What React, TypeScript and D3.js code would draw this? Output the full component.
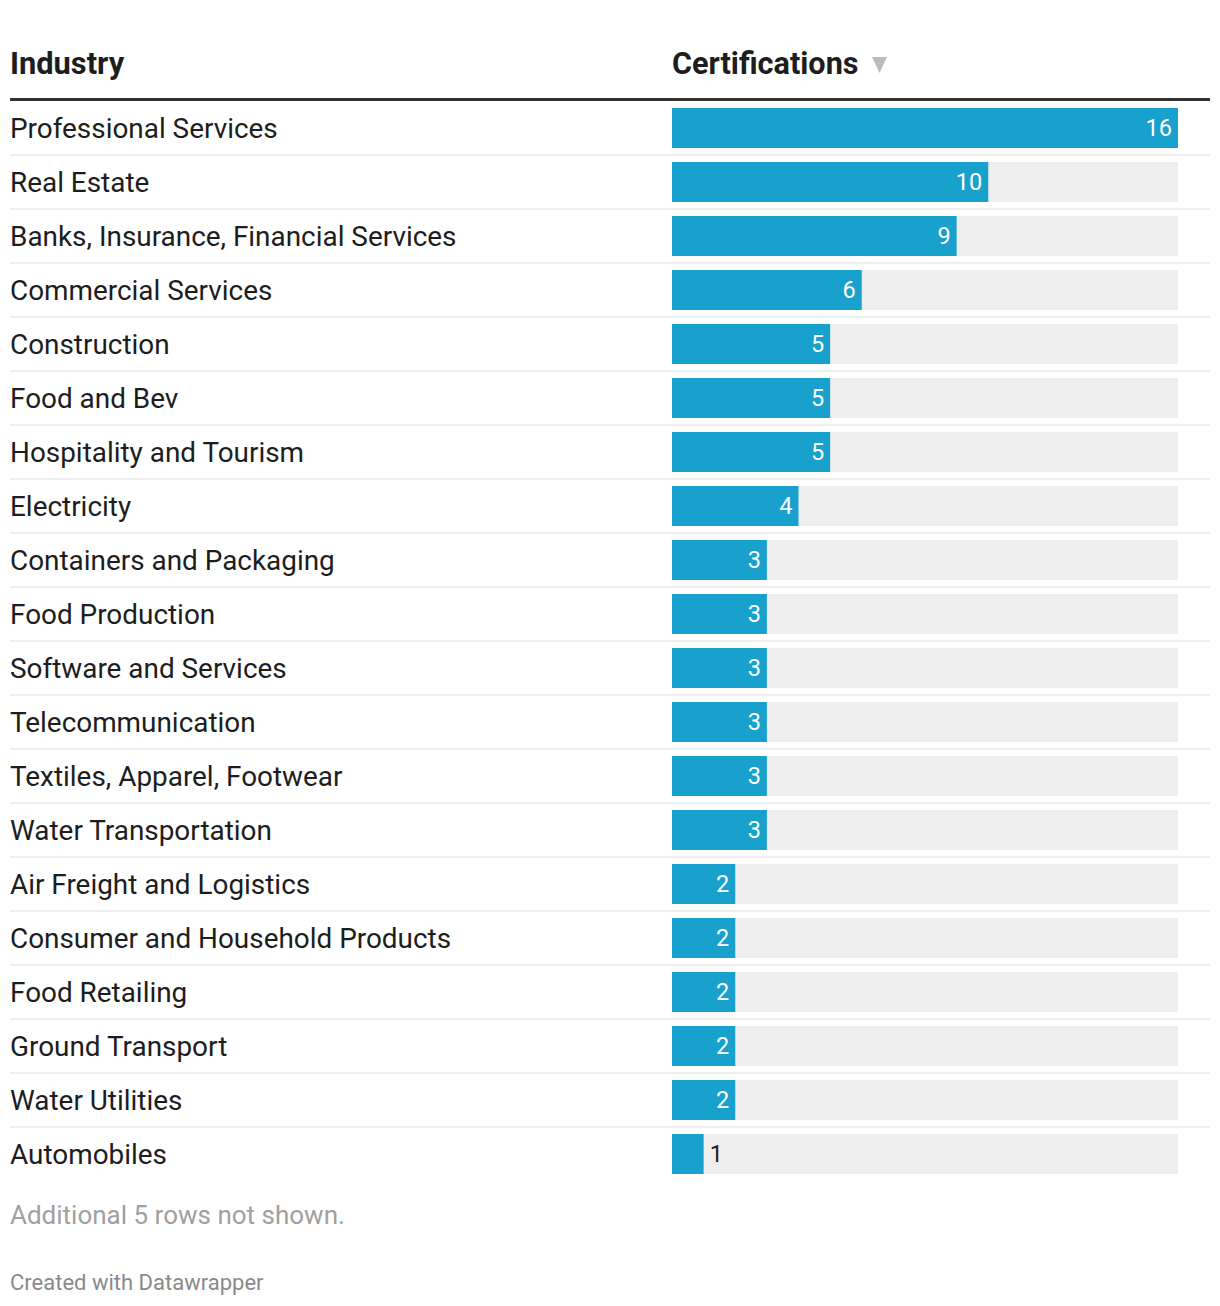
import React from "react";
import * as d3 from "d3";

const industries = [
  "Professional Services",
  "Real Estate",
  "Banks, Insurance, Financial Services",
  "Commercial Services",
  "Construction",
  "Food and Bev",
  "Hospitality and Tourism",
  "Electricity",
  "Containers and Packaging",
  "Food Production",
  "Software and Services",
  "Telecommunication",
  "Textiles, Apparel, Footwear",
  "Water Transportation",
  "Air Freight and Logistics",
  "Consumer and Household Products",
  "Food Retailing",
  "Ground Transport",
  "Water Utilities",
  "Automobiles",
];
const certifications = [16, 10, 9, 6, 5, 5, 5, 4, 3, 3, 3, 3, 3, 3, 2, 2, 2, 2, 2, 1];
const headers = ["Industry", "Certifications"];
const notes = ["Additional 5 rows not shown.", "Created with Datawrapper"];

const W = 1220;
const H = 1306;
const FONT = "Roboto, 'Noto Sans', sans-serif";

export default function App() {
  const x = d3.scaleLinear().domain([0, d3.max(certifications) as number]).range([672, 1178]);
  const y = d3
    .scaleBand<number>()
    .domain(d3.range(industries.length))
    .range([104, 104 + 54 * industries.length])
    .paddingInner(0);
  const barH = 40;

  return (
    <svg
      width={W}
      height={H}
      style={{ position: "absolute", left: 0, top: 0, background: "#fff" }}
      fontFamily={FONT}
    >
      <text x={10} y={74} fontSize={30.8} fontWeight={700} fill="#1d1d1d">
        {headers[0]}
      </text>
      <text x={672} y={74} fontSize={30.6} fontWeight={700} fill="#1d1d1d">
        {headers[1]}
      </text>
      <path d="M872,57 L887,57 L879.5,73 Z" fill="#bbbbbb" />
      <rect x={10} y={98} width={1200} height={3} fill="#333333" />
      {industries.map((name, i) => {
        const top = y(i) as number;
        const cy = top + 24;
        const v = certifications[i];
        const xe = x(v);
        const inside = xe - x(0) > 40;
        return (
          <g key={name}>
            <text x={10} y={cy} dy="0.35em" fontSize={27.9} fill="#1d1d1d">
              {name}
            </text>
            <rect x={x(0)} y={cy - barH / 2} width={x.range()[1] - x(0)} height={barH} fill="#eeeeee" />
            <rect x={x(0)} y={cy - barH / 2} width={xe - x(0)} height={barH} fill="#18a1cd" />
            <text
              x={inside ? xe - 6 : xe + 6}
              y={cy}
              dy="0.35em"
              fontSize={23.5}
              textAnchor={inside ? "end" : "start"}
              fill={inside ? "#ffffff" : "#1d1d1d"}
            >
              {v}
            </text>
            {i < industries.length - 1 && (
              <rect x={10} y={top + 50} width={1200} height={2} fill="#eeeeee" />
            )}
          </g>
        );
      })}
      <text x={10} y={1224} fontSize={26} fill="#a0a0a0">
        {notes[0]}
      </text>
      <text x={10} y={1290} fontSize={22} fill="#8a8a8a">
        {notes[1]}
      </text>
    </svg>
  );
}
